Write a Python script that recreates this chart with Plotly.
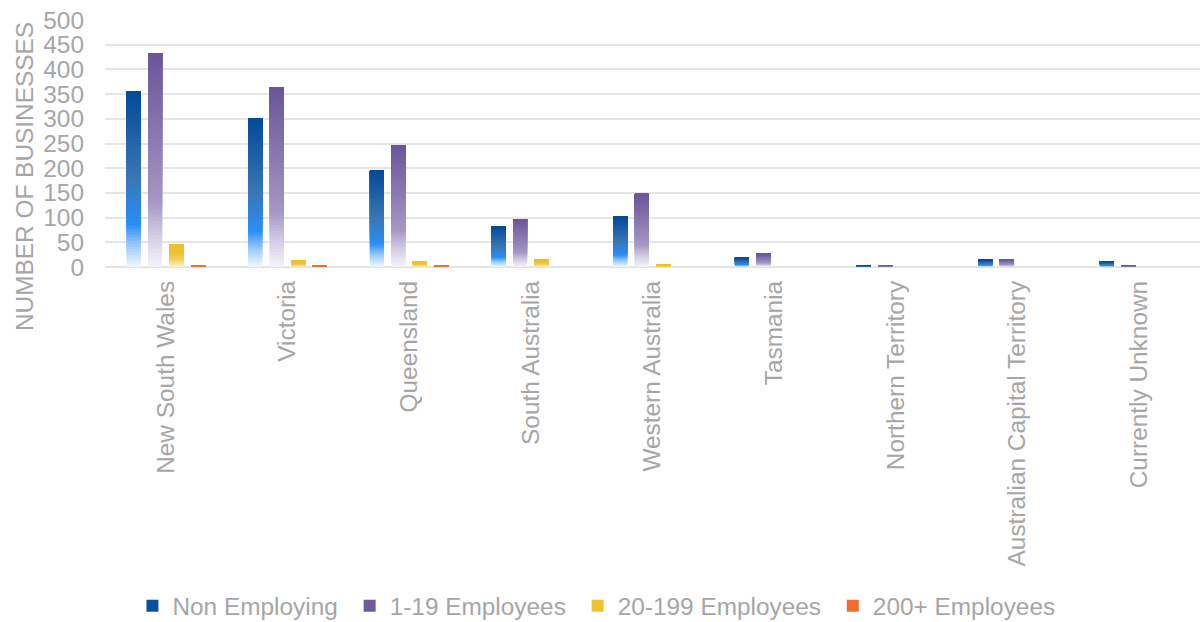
import plotly.graph_objects as go

# Businesses by state / territory and employment size
states = ["New South Wales", "Victoria", "Queensland", "South Australia",
          "Western Australia", "Tasmania", "Northern Territory",
          "Australian Capital Territory", "Currently Unknown"]

non_employing = [356, 300, 195, 83, 102, 19, 3, 15, 11]
employees_1_19 = [433, 364, 247, 97, 148, 27, 3, 15, 3]
employees_20_199 = [45, 13, 11, 15, 5, 0, 0, 0, 0]
employees_200_plus = [3, 3, 3, 0, 0, 0, 0, 0, 0]

series_names = ["Non Employing", "1-19 Employees", "20-199 Employees", "200+ Employees"]
series_values = [non_employing, employees_1_19, employees_20_199, employees_200_plus]

# vertical gradient stops (fraction of bar height from the bottom, colour)
gradients = [
    [(0.0, "#f2f8ff"), (0.12, "#9ccbff"), (0.24, "#2a8ef8"), (0.5, "#3a77b4"), (1.0, "#044a98")],
    [(0.0, "#f6f4fa"), (0.15, "#d2cbe2"), (0.3, "#a698c6"), (0.6, "#8b7ab2"), (1.0, "#6a5598")],
    [(0.0, "#fcf3d2"), (0.3, "#f4d468"), (0.6, "#f0c232"), (1.0, "#f0be2c")],
    [(0.0, "#f6a070"), (0.5, "#f07634"), (1.0, "#ee6e2c")],
]
legend_colors = ["#0a52a0", "#6e5a9c", "#f0c232", "#ee6e2c"]


def hex_to_rgb(h):
    h = h.lstrip("#")
    return tuple(int(h[i:i + 2], 16) for i in (0, 2, 4))


def color_at(stops, t):
    for (t0, c0), (t1, c1) in zip(stops[:-1], stops[1:]):
        if t <= t1:
            f = 0 if t1 == t0 else (t - t0) / (t1 - t0)
            a, b = hex_to_rgb(c0), hex_to_rgb(c1)
            r = [round(a[k] + (b[k] - a[k]) * f) for k in range(3)]
            return "rgb({},{},{})".format(*r)
    return stops[-1][1]


BAR_W = 0.115
STEP = 0.1767
SLICES = 60

fig = go.Figure()
for s, (name, vals, stops) in enumerate(zip(series_names, series_values, gradients)):
    center = (s - 1.5) * STEP
    # each slice covers from its own start up to the bar top, so later
    # slices paint over the upper part and build a seamless gradient
    for i in range(SLICES):
        frac = i / SLICES
        fig.add_trace(go.Bar(
            x=states,
            y=[v * (1 - frac) for v in vals],
            base=[v * frac for v in vals],
            width=BAR_W,
            offset=center - BAR_W / 2,
            marker=dict(color=color_at(stops, (i + 0.5) / SLICES), line=dict(width=0)),
            name=name,
            legendgroup=name,
            showlegend=False,
            hoverinfo="skip",
        ))
    # legend entry
    fig.add_trace(go.Bar(
        x=[None], y=[None], name=name + "\u00a0", legendgroup=name,
        marker=dict(color=legend_colors[s], line=dict(width=0)),
        showlegend=True,
    ))

grey = "#a6a6a6"
font_family = "Liberation Sans, Arial, sans-serif"
FS = 24.4

fig.update_layout(
    width=1203, height=622,
    margin=dict(l=105, r=3, t=20, b=355, autoexpand=False),
    paper_bgcolor="white", plot_bgcolor="white",
    barmode="overlay",
    font=dict(family=font_family, size=FS, color=grey),
    showlegend=True,
    legend=dict(orientation="h", x=0.452, xanchor="center", y=-1.372, yanchor="middle",
                font=dict(size=FS, color=grey), itemwidth=30, traceorder="normal"),
    xaxis=dict(type="category", categoryorder="array", categoryarray=states,
               range=[-0.5, len(states) - 0.5], automargin=False,
               tickangle=-90, tickfont=dict(size=FS, color=grey),
               showgrid=False, showline=False, ticks="", ticklabelstandoff=8),
    yaxis=dict(range=[0, 500], dtick=50, tickfont=dict(size=FS, color=grey),
               automargin=False,
               showgrid=True, gridcolor="#e6e6e6", gridwidth=2,
               zeroline=True, zerolinecolor="#e4e4e4", zerolinewidth=2,
               ticks="", ticklabelstandoff=20, showline=False),
    annotations=[dict(text="NUMBER OF BUSINESSES", xref="paper", yref="paper",
                      x=(24 - 105) / 1095, y=(267 - 177) / 247, textangle=-90,
                      showarrow=False, xanchor="center", yanchor="middle",
                      font=dict(size=FS, color=grey))],
)

fig.write_html("out.html")
